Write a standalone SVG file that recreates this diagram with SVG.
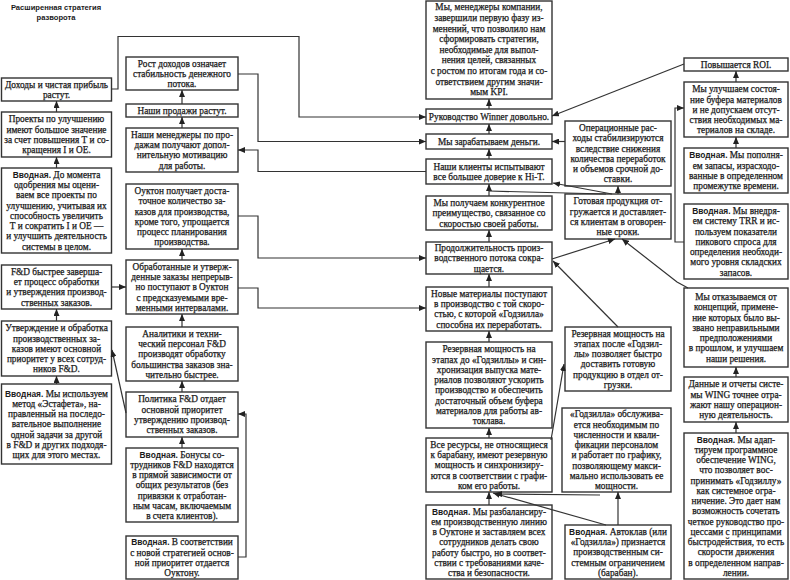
<svg xmlns="http://www.w3.org/2000/svg" width="790" height="580" viewBox="0 0 790 580">
<defs>
<marker id="ah" markerUnits="userSpaceOnUse" markerWidth="7" markerHeight="6" refX="7" refY="3" orient="auto"><path d="M0,0 L7,3 L0,6 z" fill="#222"/></marker>
</defs>
<style>
rect{fill:#fff;stroke:#333;stroke-width:1.4}
text{font-family:"Liberation Serif","DejaVu Serif",serif;font-size:9.3px;fill:#1a1a1a;stroke:#1a1a1a;stroke-width:0.25;text-anchor:middle}
.b{font-family:"Liberation Sans","DejaVu Sans",sans-serif;font-weight:bold;font-size:8.4px;stroke:none}
.t{font-family:"Liberation Sans","DejaVu Sans",sans-serif;font-weight:bold;font-size:7.6px;stroke:none}
#conn path,#conn line{fill:none;stroke:#333;stroke-width:1.2;marker-end:url(#ah)}
#conn .n{marker-end:none}
</style>
<rect x="0" y="0" width="790" height="580" style="fill:#fff;stroke:none"/>
<g id="title"><text class="t" x="56" y="9.5">Расширенная стратегия</text><text class="t" x="56" y="19.5">разворота</text></g>

<g id="A1"><rect x="1.5" y="78" width="110" height="23"/><text x="56.5" y="87.7">Доходы и чистая прибыль</text><text x="56.5" y="97.9">растут.</text></g>
<g id="A2"><rect x="1.5" y="112" width="110" height="45"/><text x="56.5" y="122.4">Проекты по улучшению</text><text x="56.5" y="132.7">имеют большое значение</text><text x="56.5" y="142.9">за счет повышения Т и со-</text><text x="56.5" y="153.2">кращения I и OE.</text></g>
<g id="A3"><rect x="1.5" y="168" width="110" height="85"/><text x="56.5" y="177.9"><tspan class="b">Вводная.</tspan> До момента</text><text x="56.5" y="188.2">одобрения мы оцени-</text><text x="56.5" y="198.4">ваем все проекты по</text><text x="56.5" y="208.7">улучшению, учитывая их</text><text x="56.5" y="218.9">способность увеличить</text><text x="56.5" y="229.2">Т и сократить I и OE —</text><text x="56.5" y="239.4">и улучшить деятельность</text><text x="56.5" y="249.7">системы в целом.</text></g>
<g id="A4"><rect x="1.5" y="265" width="110" height="44"/><text x="56.5" y="274.9">F&amp;D быстрее заверша-</text><text x="56.5" y="285.2">ет процесс обработки</text><text x="56.5" y="295.4">и утверждения производ-</text><text x="56.5" y="305.7">ственных заказов.</text></g>
<g id="A5"><rect x="1.5" y="321" width="110" height="55"/><text x="56.5" y="331.3">Утверждение и обработка</text><text x="56.5" y="341.6">производственных за-</text><text x="56.5" y="351.8">казов имеют основной</text><text x="56.5" y="362.1">приоритет у всех сотруд-</text><text x="56.5" y="372.3">ников F&amp;D.</text></g>
<g id="A6"><rect x="1.5" y="384" width="110" height="80"/><text x="56.5" y="396.6"><tspan class="b">Вводная.</tspan> Мы используем</text><text x="56.5" y="406.8">метод «Эстафета», на-</text><text x="56.5" y="417.1">правленный на последо-</text><text x="56.5" y="427.3">вательное выполнение</text><text x="56.5" y="437.6">одной задачи за другой</text><text x="56.5" y="447.8">в F&amp;D и других подходя-</text><text x="56.5" y="458.1">щих для этого местах.</text></g>

<g id="B1"><rect x="126" y="57" width="112" height="33"/><text x="182" y="66.6">Рост доходов означает</text><text x="182" y="76.8">стабильность денежного</text><text x="182" y="87">потока.</text></g>
<g id="B2"><rect x="126" y="104" width="112" height="13"/><text x="182" y="113.8">Наши продажи растут.</text></g>
<g id="B3"><rect x="126" y="128" width="112" height="44"/><text x="182" y="137.9">Наши менеджеры по про-</text><text x="182" y="148.2">дажам получают допол-</text><text x="182" y="158.4">нительную мотивацию</text><text x="182" y="168.7">для работы.</text></g>
<g id="B4"><rect x="126" y="184" width="112" height="65"/><text x="182" y="194.2">Оуктон получает доста-</text><text x="182" y="204.4">точное количество за-</text><text x="182" y="214.7">казов для производства,</text><text x="182" y="224.9">кроме того, упрощается</text><text x="182" y="235.2">процесс планирования</text><text x="182" y="245.4">производства.</text></g>
<g id="B5"><rect x="126" y="260" width="112" height="54"/><text x="182" y="269.8">Обработанные и утверж-</text><text x="182" y="280.1">денные заказы непрерыв-</text><text x="182" y="290.3">но поступают в Оуктон</text><text x="182" y="300.6">с предсказуемыми вре-</text><text x="182" y="310.8">менными интервалами.</text></g>
<g id="B6"><rect x="126" y="327" width="112" height="54"/><text x="182" y="336.8">Аналитики и техни-</text><text x="182" y="347.1">ческий персонал F&amp;D</text><text x="182" y="357.3">производят обработку</text><text x="182" y="367.6">большинства заказов зна-</text><text x="182" y="377.8">чительно быстрее.</text></g>
<g id="B7"><rect x="126" y="392" width="112" height="45"/><text x="182" y="402.4">Политика F&amp;D отдает</text><text x="182" y="412.7">основной приоритет</text><text x="182" y="422.9">утверждению производ-</text><text x="182" y="433.2">ственных заказов.</text></g>
<g id="B8"><rect x="126" y="448" width="112" height="74"/><text x="182" y="457.6"><tspan class="b">Вводная.</tspan> Бонусы со-</text><text x="182" y="467.8">трудников F&amp;D находятся</text><text x="182" y="478.1">в прямой зависимости от</text><text x="182" y="488.3">общих результатов (без</text><text x="182" y="498.6">привязки к отработан-</text><text x="182" y="508.8">ным часам, включаемым</text><text x="182" y="519.1">в счета клиентов).</text></g>
<g id="B9"><rect x="126" y="536" width="112" height="43"/><text x="182" y="545.4"><tspan class="b">Вводная.</tspan> В соответствии</text><text x="182" y="555.7">с новой стратегией основ-</text><text x="182" y="565.9">ной приоритет отдается</text><text x="182" y="576.2">Оуктону.</text></g>

<g id="C1"><rect x="426" y="1" width="126" height="98"/><text x="489" y="10.4">Мы, менеджеры компании,</text><text x="489" y="21">завершили первую фазу из-</text><text x="489" y="31.6">менений, что позволило нам</text><text x="489" y="42.2">сформировать стратегии,</text><text x="489" y="52.8">необходимые для выпол-</text><text x="489" y="63.4">нения целей, связанных</text><text x="489" y="74">с ростом по итогам года и со-</text><text x="489" y="84.6">ответствием другим значи-</text><text x="489" y="95.2">мым KPI.</text></g>
<g id="C2"><rect x="426" y="109" width="126" height="15"/><text x="489" y="119.8">Руководство Winner довольно.</text></g>
<g id="C3"><rect x="426" y="134" width="126" height="15"/><text x="489" y="144.8">Мы зарабатываем деньги.</text></g>
<g id="C4"><rect x="426" y="159" width="126" height="25"/><text x="489" y="169.7">Наши клиенты испытывают</text><text x="489" y="179.9">все большее доверие к Hi-T.</text></g>
<g id="C5"><rect x="426" y="196" width="126" height="34"/><text x="489" y="206.1">Мы получаем конкурентное</text><text x="489" y="216.3">преимущество, связанное со</text><text x="489" y="226.6">скоростью своей работы.</text></g>
<g id="C6"><rect x="426" y="242" width="126" height="32"/><text x="489" y="251.1">Продолжительность произ-</text><text x="489" y="261.3">водственного потока сокра-</text><text x="489" y="271.6">щается.</text></g>
<g id="C7"><rect x="426" y="287" width="126" height="44"/><text x="489" y="296.9">Новые материалы поступают</text><text x="489" y="307.2">в производство с той скоро-</text><text x="489" y="317.4">стью, с которой «Годзилла»</text><text x="489" y="327.7">способна их переработать.</text></g>
<g id="C8"><rect x="426" y="342" width="126" height="86"/><text x="489" y="352.4">Резервная мощность на</text><text x="489" y="362.7">этапах до «Годзиллы» и син-</text><text x="489" y="372.9">хронизация выпуска мате-</text><text x="489" y="383.2">риалов позволяют ускорить</text><text x="489" y="393.4">производство и обеспечить</text><text x="489" y="403.7">достаточный объем буфера</text><text x="489" y="413.9">материалов для работы ав-</text><text x="489" y="424.2">токлава.</text></g>
<g id="C9"><rect x="426" y="438" width="126" height="54"/><text x="489" y="447.8">Все ресурсы, не относящиеся</text><text x="489" y="458.1">к барабану, имеют резервную</text><text x="489" y="468.3">мощность и синхронизиру-</text><text x="489" y="478.6">ются в соответствии с графи-</text><text x="489" y="488.8">ком его работы.</text></g>
<g id="C10"><rect x="426" y="505" width="126" height="74"/><text x="489" y="514.6"><tspan class="b">Вводная.</tspan> Мы разбалансиру-</text><text x="489" y="524.8">ем производственную линию</text><text x="489" y="535.1">в Оуктоне и заставляем всех</text><text x="489" y="545.3">сотрудников делать свою</text><text x="489" y="555.6">работу быстро, но в соответ-</text><text x="489" y="565.8">ствии с требованиями каче-</text><text x="489" y="576.1">ства и безопасности.</text></g>

<g id="D1"><rect x="565" y="121" width="106" height="65"/><text x="618" y="131.2">Операционные рас-</text><text x="618" y="141.4">ходы стабилизируются</text><text x="618" y="151.7">вследствие снижения</text><text x="618" y="161.9">количества переработок</text><text x="618" y="172.2">и объемов срочной до-</text><text x="618" y="182.4">ставки.</text></g>
<g id="D2"><rect x="565" y="194" width="106" height="45"/><text x="618" y="204.4">Готовая продукция от-</text><text x="618" y="214.7">гружается и доставляет-</text><text x="618" y="224.9">ся клиентам в оговорен-</text><text x="618" y="235.2">ные сроки.</text></g>
<g id="D3"><rect x="565" y="327" width="106" height="64"/><text x="618" y="336.7">Резервная мощность на</text><text x="618" y="346.9">этапах после «Годзил-</text><text x="618" y="357.2">лы» позволяет быстро</text><text x="618" y="367.4">доставить готовую</text><text x="618" y="377.7">продукцию в отдел от-</text><text x="618" y="387.9">грузки.</text></g>
<g id="D4"><rect x="562" y="408" width="109" height="84"/><text x="616.5" y="417.4">«Годзилла» обслужива-</text><text x="616.5" y="427.7">ется необходимым по</text><text x="616.5" y="437.9">численности и квали-</text><text x="616.5" y="448.2">фикации персоналом</text><text x="616.5" y="458.4">и работает по графику,</text><text x="616.5" y="468.7">позволяющему макси-</text><text x="616.5" y="478.9">мально использовать ее</text><text x="616.5" y="489.2">мощности.</text></g>
<g id="D5"><rect x="565" y="525" width="106" height="54"/><text x="618" y="534.8"><tspan class="b">Вводная.</tspan> Автоклав (или</text><text x="618" y="545.1">«Годзилла») признается</text><text x="618" y="555.3">производственным си-</text><text x="618" y="565.6">стемным ограничением</text><text x="618" y="575.8">(барабан).</text></g>

<g id="E1"><rect x="684" y="58" width="104" height="13"/><text x="736" y="67.8">Повышается ROI.</text></g>
<g id="E2"><rect x="684" y="82" width="104" height="55"/><text x="736" y="92.3">Мы улучшаем состоя-</text><text x="736" y="102.6">ние буфера материалов</text><text x="736" y="112.8">и не допускаем отсут-</text><text x="736" y="123.1">ствия необходимых ма-</text><text x="736" y="133.3">териалов на складе.</text></g>
<g id="E3"><rect x="684" y="148" width="104" height="45"/><text x="736" y="158.4"><tspan class="b">Вводная.</tspan> Мы пополня-</text><text x="736" y="168.7">ем запасы, израсходо-</text><text x="736" y="178.9">ванные в определенном</text><text x="736" y="189.2">промежутке времени.</text></g>
<g id="E4"><rect x="684" y="204" width="104" height="75"/><text x="736" y="214.1"><tspan class="b">Вводная.</tspan> Мы внедря-</text><text x="736" y="224.3">ем систему TRR и ис-</text><text x="736" y="234.6">пользуем показатели</text><text x="736" y="244.8">пикового спроса для</text><text x="736" y="255.1">определения необходи-</text><text x="736" y="265.3">мого уровня складских</text><text x="736" y="275.6">запасов.</text></g>
<g id="E5"><rect x="684" y="288" width="104" height="79"/><text x="736" y="300.1">Мы отказываемся от</text><text x="736" y="310.3">концепций, примене-</text><text x="736" y="320.6">ние которых было вы-</text><text x="736" y="330.8">звано неправильными</text><text x="736" y="341.1">предположениями</text><text x="736" y="351.3">в прошлом, и улучшаем</text><text x="736" y="361.6">наши решения.</text></g>
<g id="E6"><rect x="684" y="377" width="104" height="45"/><text x="736" y="387.4">Данные и отчеты систе-</text><text x="736" y="397.7">мы WING точнее отра-</text><text x="736" y="407.9">жают нашу операцион-</text><text x="736" y="418.2">ную деятельность.</text></g>
<g id="E7"><rect x="684" y="433" width="104" height="146"/><text x="736" y="442.7"><tspan class="b">Вводная.</tspan> Мы адап-</text><text x="736" y="452.9">тируем программное</text><text x="736" y="463.2">обеспечение WING,</text><text x="736" y="473.4">что позволяет вос-</text><text x="736" y="483.7">принимать «Годзиллу»</text><text x="736" y="493.9">как системное огра-</text><text x="736" y="504.2">ничение. Это дает нам</text><text x="736" y="514.4">возможность сочетать</text><text x="736" y="524.7">четкое руководство про-</text><text x="736" y="534.9">цессами с принципами</text><text x="736" y="545.2">быстродействия, то есть</text><text x="736" y="555.4">скорости движения</text><text x="736" y="565.7">в определенном направ-</text><text x="736" y="575.9">лении.</text></g>

<g id="conn">
<line x1="56.5" y1="112" x2="56.5" y2="101"/>
<line x1="56.5" y1="168" x2="56.5" y2="157"/>
<line x1="56.5" y1="321" x2="56.5" y2="309"/>
<line x1="56.5" y1="384" x2="56.5" y2="376"/>
<line x1="111.5" y1="287" x2="126" y2="287"/>
<line x1="126" y1="413" x2="112" y2="350"/>
<line x1="182" y1="104" x2="182" y2="90"/>
<line x1="182" y1="128" x2="182" y2="117"/>
<line x1="182" y1="260" x2="182" y2="249"/>
<line x1="182" y1="327" x2="182" y2="314"/>
<line x1="182" y1="392" x2="182" y2="381"/>
<line x1="182" y1="448" x2="182" y2="437"/>
<path d="M238,557 H246 V414 H238"/>
<path d="M111.5,89 H118 V36.5 H299 V117 H426"/>
<path d="M238,74 H258 V141.5 H426"/>
<path d="M426,171.5 H258 V150 H238"/>
<path d="M238,216 H258 V258 H426"/>
<path d="M238,288 H258 V308 H426"/>
<line x1="489" y1="109" x2="489" y2="99"/>
<line x1="489" y1="134" x2="489" y2="124"/>
<line x1="489" y1="159" x2="489" y2="149"/>
<line x1="489" y1="196" x2="489" y2="184"/>
<line x1="489" y1="242" x2="489" y2="230"/>
<line x1="489" y1="287" x2="489" y2="274"/>
<line x1="489" y1="342" x2="489" y2="331"/>
<line x1="489" y1="438" x2="489" y2="428"/>
<line x1="489" y1="505" x2="489" y2="492"/>
<line x1="565" y1="141.5" x2="552" y2="141.5"/>
<line x1="684" y1="64" x2="552" y2="116"/>
<path d="M684,242 H675 V108 H684"/>
<line x1="736" y1="82" x2="736" y2="71"/>
<line x1="736" y1="148" x2="736" y2="137"/>
<line x1="736" y1="377" x2="736" y2="367"/>
<line x1="736" y1="433" x2="736" y2="422"/>
<line x1="618" y1="194" x2="618" y2="186"/>
<line x1="612" y1="194" x2="553" y2="183"/>
<line class="n" x1="606" y1="194" x2="489" y2="191"/>
<line x1="552" y1="259" x2="615" y2="239"/>
<line x1="618" y1="327" x2="553" y2="261"/>
<path d="M688,288 L677,282 L622,239"/>
<line x1="551" y1="440" x2="564" y2="364"/>
<line x1="618" y1="525" x2="618" y2="492"/>
<line x1="606" y1="525" x2="493" y2="493"/>
<line x1="600" y1="495" x2="495" y2="494"/>
</g>
</svg>
